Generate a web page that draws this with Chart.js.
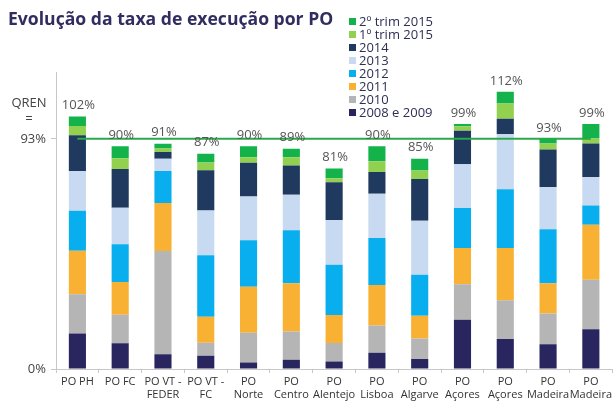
<!DOCTYPE html>
<html>
<head>
<meta charset="utf-8">
<script src="https://cdn.jsdelivr.net/npm/chart.js@4"></script>
<style>
  body { margin: 0; background: #fff; }
  #wrap { position: relative; width: 614px; height: 401px; }
  #title {
    position: absolute; left: 8px; top: 6px;
    font: bold 17.6px "Open Sans", sans-serif; color: #302d60;
  }
  #legend {
    position: absolute; left: 349px; top: 15px;
    font: 13px "Open Sans", sans-serif; color: #2d2f55;
  }
  #legend div { height: 13px; line-height: 13px; white-space: nowrap; }
  #legend span { display: inline-block; width: 7px; height: 7px; margin-right: 3px; vertical-align: 1px; }
</style>
</head>
<body>
<div id="wrap">
  <canvas id="c" width="614" height="401"></canvas>
  <div id="title">Evolução da taxa de execução por PO</div>
  <div id="legend"></div>
</div>
<script>
const categories = [
  ['PO PH'], ['PO FC'], ['PO VT -', 'FEDER'], ['PO VT -', 'FC'], ['PO', 'Norte'],
  ['PO', 'Centro'], ['PO', 'Alentejo'], ['PO', 'Lisboa'], ['PO', 'Algarve'],
  ['PO', 'Açores'], ['PO', 'Açores'], ['PO', 'Madeira'], ['PO', 'Madeira']
];

// execution rate added in each period (% of programme)
const y2008_2009 = [14.3, 10.4, 6.0, 5.4, 2.6, 3.7, 3.0, 6.6, 4.0, 19.9, 12.1, 10.0, 16.1];
const y2010 = [15.9, 11.5, 41.7, 5.2, 12.0, 11.5, 7.5, 11.0, 8.3, 14.3, 15.7, 12.4, 20.0];
const y2011 = [17.6, 13.3, 19.4, 10.5, 18.6, 19.4, 11.3, 16.3, 9.2, 14.7, 21.1, 12.2, 22.2];
const y2012 = [16.1, 15.2, 12.9, 24.9, 18.8, 21.5, 20.3, 19.0, 16.6, 16.2, 23.7, 21.9, 7.8];
const y2013 = [16.1, 14.8, 5.0, 18.0, 17.7, 14.3, 18.1, 17.9, 21.8, 17.6, 22.2, 17.0, 11.5];
const y2014 = [14.4, 15.6, 2.7, 16.3, 13.6, 11.8, 15.3, 8.8, 16.9, 13.6, 6.3, 15.2, 13.5];
const trim1_2015 = [3.8, 4.4, 1.4, 3.1, 2.3, 3.4, 1.6, 4.3, 3.4, 1.8, 6.2, 2.4, 2.0];
const trim2_2015 = [3.8, 4.8, 1.9, 3.6, 4.4, 3.4, 3.9, 6.1, 4.8, 0.9, 4.7, 1.9, 5.9];

const totals = [102, 90, 91, 87, 90, 89, 81, 90, 85, 99, 112, 93, 99];
const qrenTarget = 93;
const yTicks = [0, 93];

const series = [
  { label: '2008 e 2009', data: y2008_2009, color: '#28255f' },
  { label: '2010', data: y2010, color: '#b5b5b5' },
  { label: '2011', data: y2011, color: '#f8b133' },
  { label: '2012', data: y2012, color: '#08aeee' },
  { label: '2013', data: y2013, color: '#c7daf1' },
  { label: '2014', data: y2014, color: '#1f3a5e' },
  { label: '1º trim 2015', data: trim1_2015, color: '#92d050' },
  { label: '2º trim 2015', data: trim2_2015, color: '#13b24b' }
];

const overlay = {
  id: 'overlay',
  afterDatasetsDraw(chart) {
    const { ctx, scales: { x, y } } = chart;
    ctx.save();
    // QREN reference line
    const yq = y.getPixelForValue(qrenTarget);
    ctx.strokeStyle = '#2aa84a';
    ctx.lineWidth = 2;
    ctx.beginPath();
    ctx.moveTo(x.getPixelForValue(0), yq);
    ctx.lineTo(x.getPixelForValue(categories.length - 1), yq);
    ctx.stroke();
    // totals above bars
    ctx.font = '13px "Open Sans", sans-serif';
    ctx.fillStyle = '#555';
    ctx.textAlign = 'center';
    ctx.textBaseline = 'middle';
    totals.forEach((t, i) => {
      const sum = series.reduce((s, d) => s + d.data[i], 0);
      ctx.fillText(t + '%', x.getPixelForValue(i) + 1, y.getPixelForValue(sum) - 11);
    });
    // QREN = label
    ctx.fillStyle = '#444';
    ctx.fillText('QREN', 29, yq - 36);
    ctx.fillText('=', 29, yq - 20);
    ctx.restore();
  }
};

const chart = new Chart(document.getElementById('c'), {
  type: 'bar',
  data: {
    labels: categories,
    datasets: series.map(s => ({
      label: s.label,
      data: s.data,
      backgroundColor: s.color,
      categoryPercentage: 1,
      barPercentage: 0.4
    }))
  },
  options: {
    responsive: false,
    devicePixelRatio: 1,
    animation: false,
    layout: { padding: { top: 72, left: 0, right: 0, bottom: 0 } },
    plugins: { legend: { display: false }, tooltip: { enabled: false } },
    scales: {
      x: {
        stacked: true,
        afterFit: s => { s.height = 32; },
        grid: { drawOnChartArea: false, tickLength: 4, color: '#c8c8c8' },
        border: { color: '#c8c8c8' },
        ticks: { color: '#333', font: { size: 11, family: '"Open Sans", sans-serif' }, padding: 2, maxRotation: 0, autoSkip: false }
      },
      y: {
        stacked: true,
        min: 0,
        max: 120,
        afterFit: s => { s.width = 56; },
        afterBuildTicks: s => { s.ticks = yTicks.map(v => ({ value: v })); },
        grid: { drawOnChartArea: false, tickLength: 5, color: '#c8c8c8' },
        border: { color: '#c8c8c8' },
        ticks: { color: '#444', font: { size: 13, family: '"Open Sans", sans-serif' }, padding: 5, callback: v => v + '%' }
      }
    }
  },
  plugins: [overlay]
});

const legend = document.getElementById('legend');
series.slice().reverse().forEach(s => {
  const row = document.createElement('div');
  const box = document.createElement('span');
  box.style.background = s.color;
  row.appendChild(box);
  row.appendChild(document.createTextNode(s.label));
  legend.appendChild(row);
});
</script>
</body>
</html>
